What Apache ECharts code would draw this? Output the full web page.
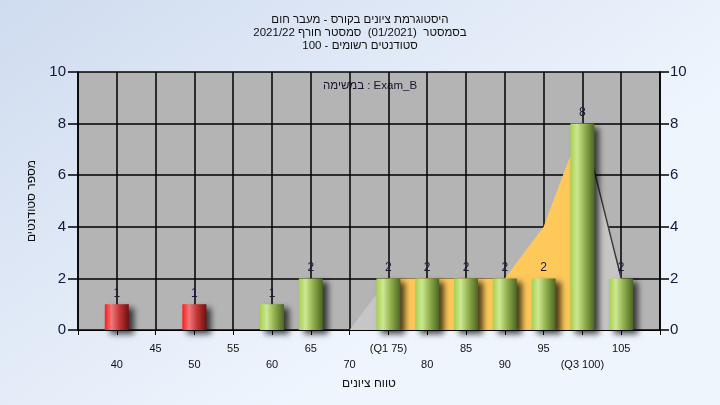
<!DOCTYPE html>
<html><head><meta charset="utf-8">
<script src="https://cdn.jsdelivr.net/npm/echarts@6/dist/echarts.min.js"></script>
<style>html,body{margin:0;padding:0;}#c{width:720px;height:405px;}</style>
</head><body><div id="c"></div>
<script>
// ---- data ----
const grades = [40, 50, 60, 65, 75, 80, 85, 90, 95, 100, 105];
const counts = [1, 1, 1, 2, 2, 2, 2, 2, 2, 8, 2];
const passMark = 55;
const curveX = [70, 75, 80, 85, 90, 95, 100, 105];
const curveY = [0, 2, 2, 2, 2, 4, 8, 2];
const q1 = 75, q3 = 100;
const tickLabels = {75: '(Q1 75)', 100: '(Q3 100)'};
const titleLines = ['היסטוגרמת ציונים בקורס - מעבר חום', 'בסמסטר  (01/2021)  סמסטר חורף 2021/22', 'סטודנטים רשומים - 100'];
const legendText = 'במשימה : Exam_B';
const yName = 'מספר סטודנטים';
const xName = 'טווח ציונים';

const FONT = '"Liberation Sans", Arial, sans-serif';

const pts = curveX.map((x, i) => [x, curveY[i]]);
const segLeft = pts.filter(p => p[0] <= q1);
const segMid = pts.filter(p => p[0] >= q1 && p[0] <= q3);
const segRight = pts.filter(p => p[0] >= q3);

function grad(c0, c1, c2, c3) {
  return new echarts.graphic.LinearGradient(0, 0, 1, 0, [
    {offset: 0, color: c0}, {offset: 0.28, color: c1}, {offset: 0.62, color: c2}, {offset: 1, color: c3}]);
}
const redG = grad('#ff1a1a', '#f07878', '#c03434', '#6e1010');
const greenG = grad('#a6d04e', '#cde892', '#8eac4a', '#4a6624');

const chart = echarts.init(document.getElementById('c'), null, {renderer: 'canvas'});
chart.setOption({
  animation: false,
  backgroundColor: new echarts.graphic.LinearGradient(0, 0, 0.4, 1, [
    {offset: 0, color: '#cfdbef'}, {offset: 1, color: '#eff5fd'}]),
  title: {
    text: titleLines.join('\n'),
    left: 'center', top: 8,
    textStyle: {fontFamily: FONT, fontSize: 11.5, fontWeight: 'normal', color: '#111', lineHeight: 13}
  },
  grid: {left: 78, right: 60, top: 72, bottom: 75, show: true, backgroundColor: '#b4b4b4', borderWidth: 0},
  graphic: [{
    type: 'text', left: 323, top: 80,
    style: {text: legendText, font: '11.5px ' + FONT, fill: '#141430'}
  }],
  xAxis: {
    type: 'value', min: 35, max: 110, interval: 5,
    name: xName, nameLocation: 'middle', nameGap: 41,
    nameTextStyle: {fontFamily: FONT, fontSize: 12, color: '#111'},
    axisLine: {show: true, onZero: false, lineStyle: {color: '#000', width: 1}},
    axisTick: {show: true, length: 5, lineStyle: {color: '#000'}},
    splitLine: {show: true, lineStyle: {color: '#000', width: 1.5}},
    axisLabel: {
      margin: 11, fontFamily: FONT, fontSize: 11, color: '#111', lineHeight: 16,
      formatter: v => {
        if (v <= 35 || v >= 110) return '';
        const t = tickLabels[v] || String(v);
        return (v / 5) % 2 === 0 ? '\n' + t : t;
      }
    }
  },
  yAxis: [{
    type: 'value', min: 0, max: 10, interval: 2, position: 'left',
    name: yName, nameLocation: 'middle', nameGap: 40,
    nameTextStyle: {fontFamily: FONT, fontSize: 12, color: '#111'},
    axisLine: {show: true, lineStyle: {color: '#000', width: 1.5}},
    axisTick: {show: true, length: 10, lineStyle: {color: '#000', width: 1.5}},
    splitLine: {show: true, lineStyle: {color: '#000', width: 1.5}},
    axisLabel: {margin: 12, fontFamily: FONT, fontSize: 15, color: '#14183a'}
  }, {
    type: 'value', min: 0, max: 10, interval: 2, position: 'right',
    axisLine: {show: true, lineStyle: {color: '#000', width: 1.5}},
    axisTick: {show: true, length: 9, lineStyle: {color: '#000', width: 1.5}},
    splitLine: {show: false},
    axisLabel: {margin: 10, fontFamily: FONT, fontSize: 15, color: '#14183a'}
  }],
  series: [
    {type: 'line', data: segLeft, symbol: 'none', lineStyle: {width: 0}, areaStyle: {color: '#c6c6c6', opacity: 1}, z: 1},
    {type: 'line', data: segMid, symbol: 'none', lineStyle: {width: 0}, areaStyle: {color: '#fec95a', opacity: 1}, z: 1},
    {type: 'line', data: segRight, symbol: 'none', lineStyle: {width: 1.5, color: '#3a3a3a'}, areaStyle: {color: '#c6c6c6', opacity: 1}, z: 1},
    {
      type: 'bar', barWidth: 24, z: 3,
      data: grades.map((g, i) => ({
        value: [g, counts[i]],
        itemStyle: {
          color: g < passMark ? redG : greenG,
          shadowBlur: 6, shadowOffsetX: 5, shadowOffsetY: 4, shadowColor: 'rgba(0,0,0,0.7)'
        }
      })),
      label: {show: true, position: 'top', distance: 5, fontFamily: FONT, fontSize: 12, color: '#1a1a3a',
        formatter: p => p.value[1]}
    }
  ]
});
</script></body></html>
